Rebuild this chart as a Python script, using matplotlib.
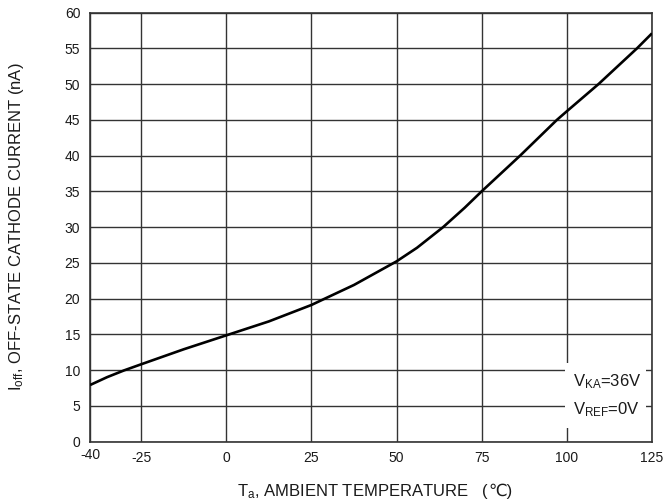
import matplotlib
matplotlib.use("Agg")
import matplotlib.pyplot as plt
from matplotlib.patches import Rectangle

plt.rcParams["font.family"] = ["Liberation Sans", "DejaVu Sans"]
plt.rcParams["mathtext.fontset"] = "custom"
plt.rcParams["mathtext.rm"] = "Liberation Sans"
plt.rcParams["mathtext.it"] = "Liberation Sans"

# curve
temp_c = [-40, -35, -30, -25, -12.5, 0, 12.5, 25, 29, 37.5, 50, 56, 63.7,
          70, 75, 86.3, 97.1, 100, 109.3, 120.6, 125]
i_off_na = [7.9, 9.0, 9.95, 10.8, 12.9, 14.85, 16.8, 19.1, 20.0, 21.9,
            25.2, 27.1, 30.0, 32.7, 35.0, 40.0, 45.0, 46.2, 50.0, 55.0,
            57.1]

x_ticks = [-40, -25, 0, 25, 50, 75, 100, 125]
y_ticks = list(range(0, 61, 5))

GRID = "#333333"
TXT = "#1a1a1a"

fig = plt.figure(figsize=(6.67, 5.04), dpi=100)
ax = fig.add_axes([0.135, 0.124, 0.8425, 0.851])

ax.set_xlim(-40, 125)
ax.set_ylim(0, 60)
ax.set_xticks(x_ticks)
ax.set_yticks(y_ticks)
ax.set_xticklabels([str(v) for v in x_ticks])
ax.set_yticklabels([str(v) for v in y_ticks])
ax.tick_params(length=0, labelsize=10, colors=TXT, pad=7)
ax.xaxis.get_major_ticks()[0].set_pad(5)

ax.grid(True, color=GRID, linewidth=1.0)
ax.set_axisbelow(True)
for s in ax.spines.values():
    s.set_color(GRID)
    s.set_linewidth(1.2)

ax.plot(temp_c, i_off_na, color="black", linewidth=1.9, zorder=3,
        solid_joinstyle="round", solid_capstyle="butt")

# condition box
ax.add_patch(Rectangle((99.6, 1.9), 23.7, 9.1, facecolor="white",
                       edgecolor="none", zorder=2))
ax.text(101.8, 7.66, r"V$_{\mathrm{KA}}$=36V", fontsize=12, color=TXT,
        va="baseline", ha="left", zorder=4)
ax.text(101.8, 3.85, r"V$_{\mathrm{REF}}$=0V", fontsize=12, color=TXT,
        va="baseline", ha="left", zorder=4)

ax.set_ylabel(r"I$_{\mathrm{off}}$, OFF-STATE CATHODE CURRENT (nA)",
              fontsize=12, color=TXT, labelpad=28)

# x label in two pieces: mathtext has no fallback for the ℃ sign
XL_Y = -0.127
xl1 = ax.text(0.485, XL_Y, r"T$_{\mathrm{a}}$, AMBIENT TEMPERATURE   (",
              transform=ax.transAxes, fontsize=12, color=TXT,
              ha="center", va="baseline")
fig.canvas.draw()
bb = xl1.get_window_extent()
x_end = ax.transAxes.inverted().transform((bb.x1, bb.y0))[0]
ax.text(x_end, XL_Y, "℃)", transform=ax.transAxes, fontsize=12,
        color=TXT, ha="left", va="baseline")

fig.savefig("out.png", dpi=100)
